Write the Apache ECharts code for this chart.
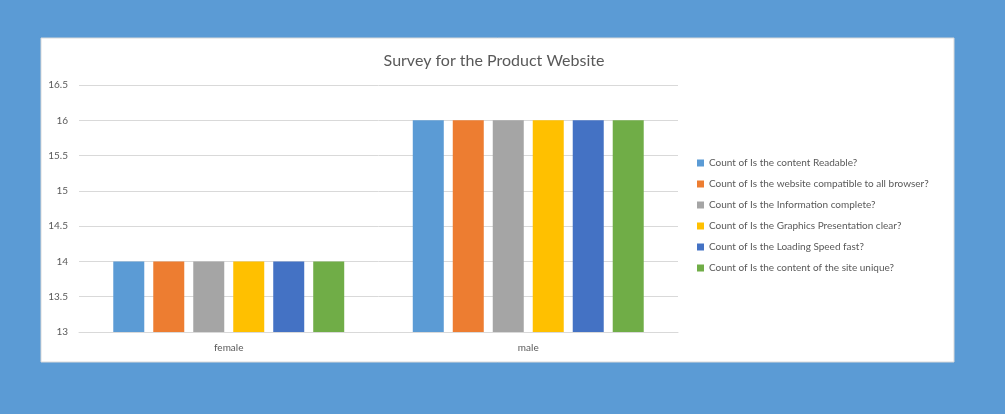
<!DOCTYPE html>
<html>
<head>
<meta charset="utf-8">
<script src="https://cdn.jsdelivr.net/npm/echarts@6/dist/echarts.min.js"></script>
<style>
html,body{margin:0;padding:0;background:#5B9BD5;}
#c{width:1005px;height:414px;}
</style>
</head>
<body>
<div id="c"></div>
<script>
const categories = ['female', 'male'];
const seriesNames = [
  'Count of Is the content Readable?',
  'Count of Is the website compatible to all browser?',
  'Count of Is the Information complete?',
  'Count of Is the Graphics Presentation clear?',
  'Count of Is the Loading Speed fast?',
  'Count of Is the content of the site unique?'
];
const readable = [14, 16];
const compatible = [14, 16];
const information = [14, 16];
const graphics = [14, 16];
const loading = [14, 16];
const unique = [14, 16];
const yTicks = [13, 13.5, 14, 14.5, 15, 15.5, 16, 16.5];

const colors = ['#5B9BD5', '#ED7D31', '#A5A5A5', '#FFC000', '#4472C4', '#70AD47'];
const values = [readable, compatible, information, graphics, loading, unique];
const FONT = 'Lato, "Open Sans", sans-serif';

const chart = echarts.init(document.getElementById('c'));
chart.setOption({
  backgroundColor: '#5B9BD5',
  animation: false,
  color: colors,
  textStyle: {fontFamily: FONT},
  graphic: [{
    type: 'rect', z: -10, silent: true,
    shape: {x: 41, y: 38, width: 913, height: 324},
    style: {fill: '#ffffff', stroke: '#D9D9D9', lineWidth: 1}
  }],
  title: {
    text: 'Survey for the Product Website',
    left: 489, top: 48, textAlign: 'center',
    textStyle: {fontFamily: FONT, fontSize: 16, fontWeight: 'normal', color: '#595959'}
  },
  legend: {
    orient: 'vertical',
    left: 697, top: 157, padding: 0,
    itemWidth: 7, itemHeight: 7, itemGap: 9,
    icon: 'rect',
    textStyle: {fontFamily: FONT, fontSize: 10, color: '#595959', lineHeight: 12},
    data: seriesNames
  },
  grid: {left: 79, right: 1005 - 678, top: 85, bottom: 414 - 332, containLabel: false},
  xAxis: {
    type: 'category',
    data: categories,
    axisLine: {show: true, lineStyle: {color: '#D9D9D9'}},
    axisTick: {show: false},
    axisLabel: {color: '#595959', fontSize: 10, margin: 11}
  },
  yAxis: {
    type: 'value',
    min: yTicks[0], max: yTicks[yTicks.length - 1], interval: 0.5,
    axisLine: {show: false},
    axisTick: {show: false},
    splitLine: {lineStyle: {color: '#D9D9D9'}},
    axisLabel: {color: '#595959', fontSize: 10, margin: 11,
      formatter: v => String(v)}
  },
  series: seriesNames.map((n, i) => ({
    name: n, type: 'bar', data: values[i],
    barWidth: 31, barGap: '29%'
  }))
});
</script>
</body>
</html>
